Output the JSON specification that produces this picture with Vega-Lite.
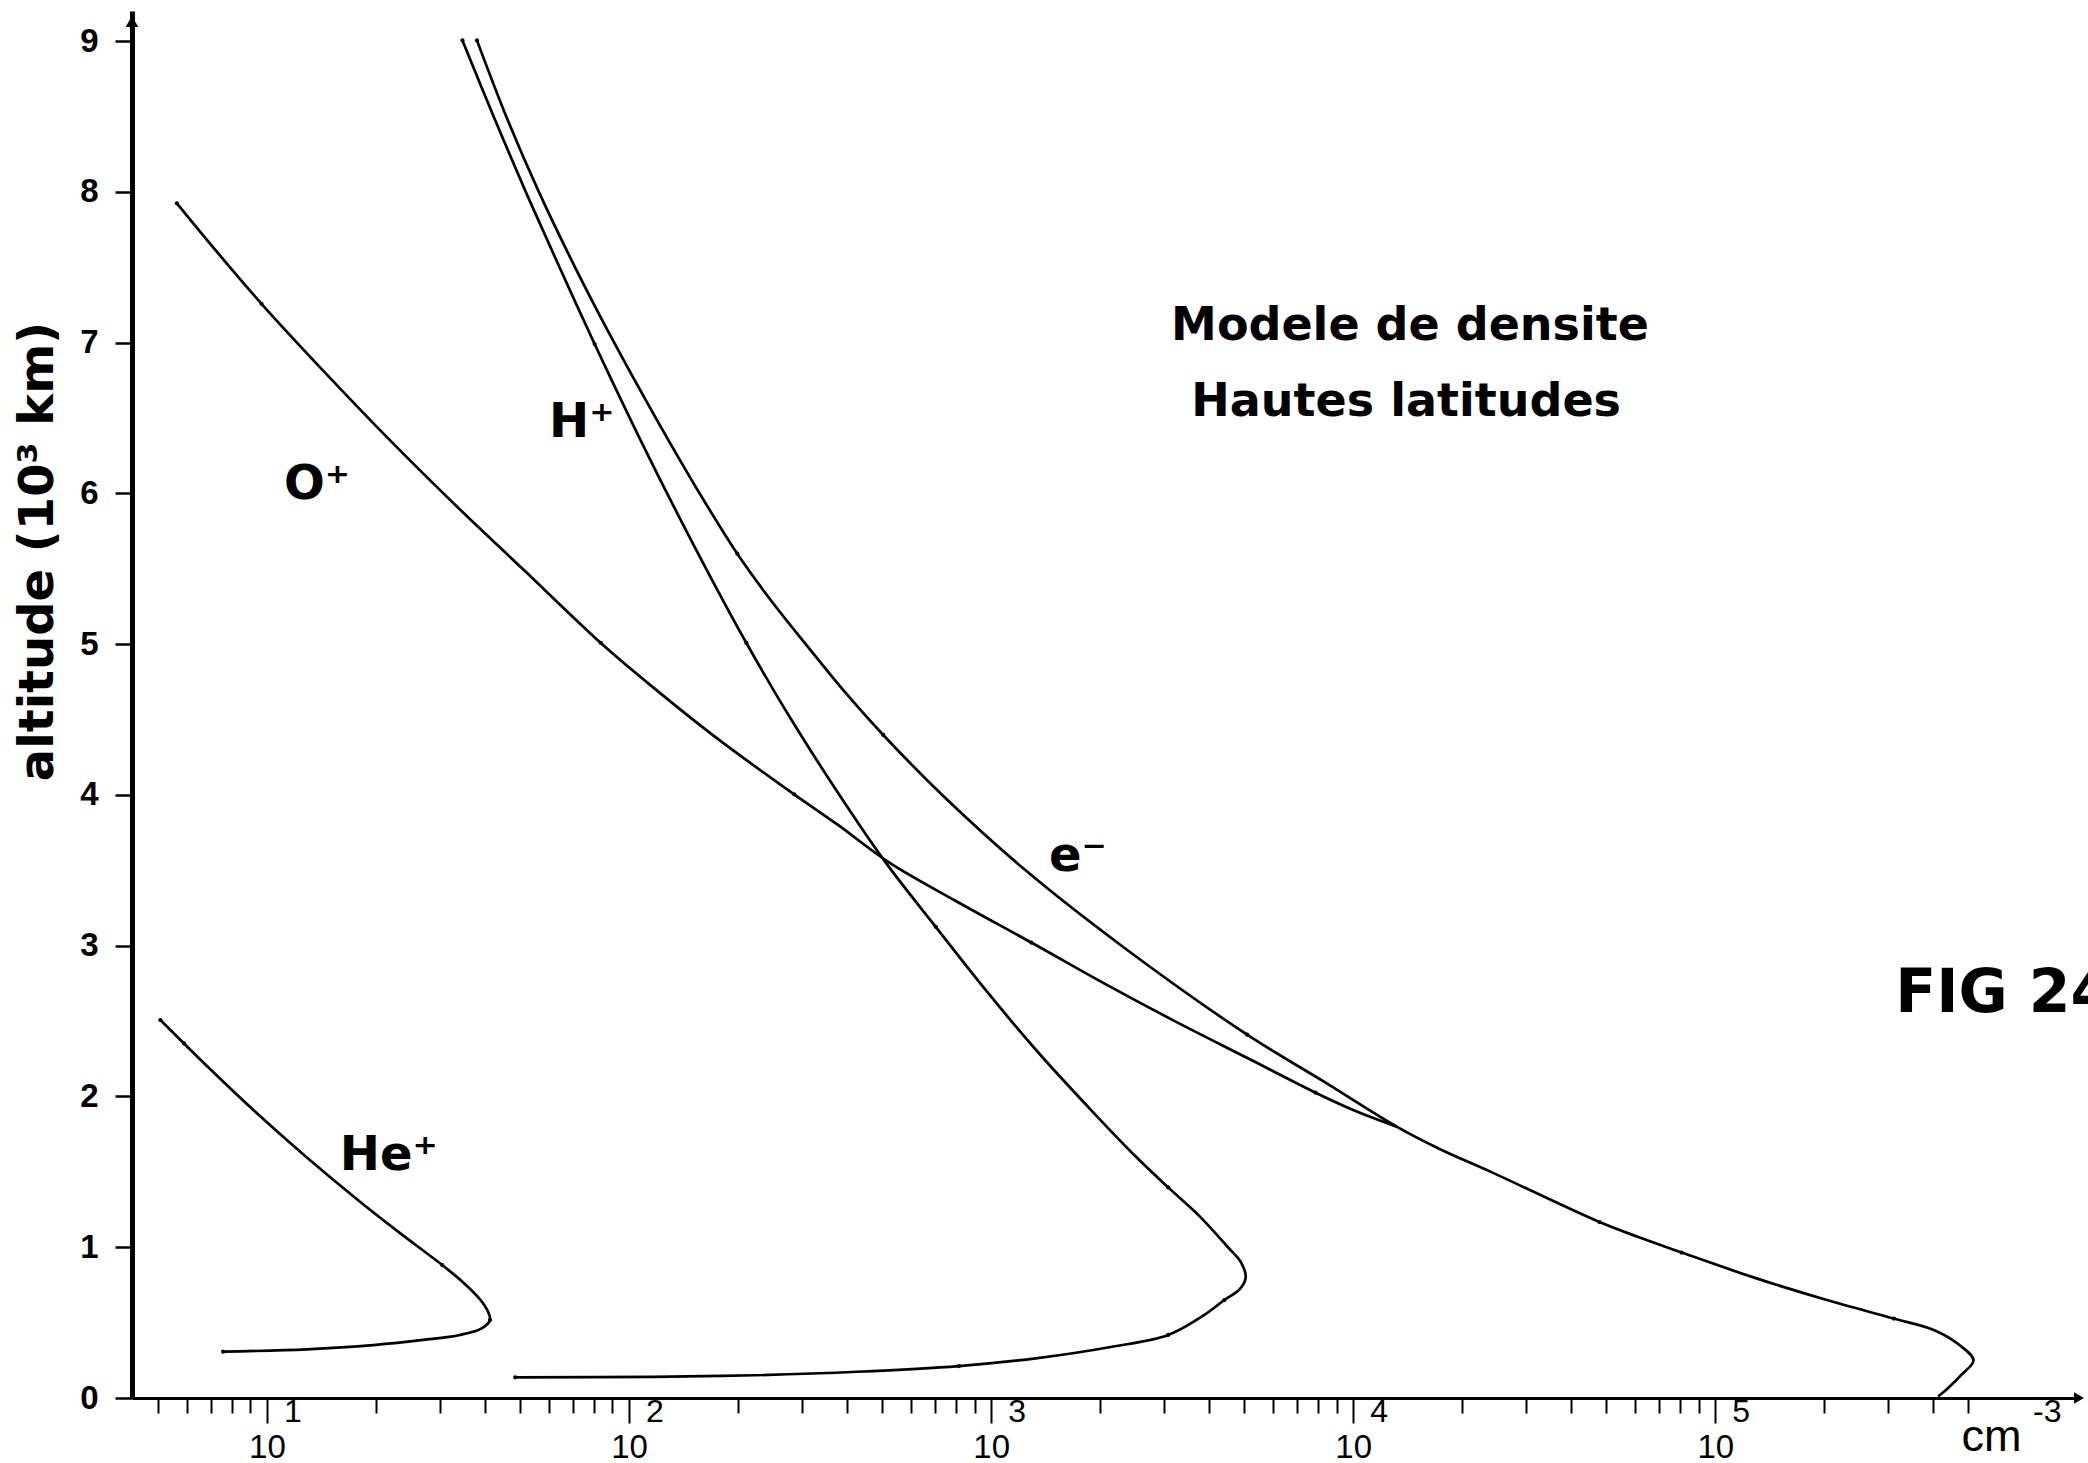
{
  "$schema": "https://vega.github.io/schema/vega-lite/v6.json",
  "width": 1947,
  "height": 1387,
  "autosize": {"type": "none"},
  "padding": {"left": 132, "top": 11, "right": 9, "bottom": 65},
  "background": "white",
  "config": {"view": {"stroke": null}},
  "datasets": {
    "curves": [
      {"s": "He", "i": 0, "n": 5.08, "alt": 2.507},
      {"s": "He", "i": 1, "n": 6.84, "alt": 2.2},
      {"s": "He", "i": 2, "n": 9.27, "alt": 1.9},
      {"s": "He", "i": 3, "n": 12.82, "alt": 1.6},
      {"s": "He", "i": 4, "n": 18.11, "alt": 1.3},
      {"s": "He", "i": 5, "n": 23.12, "alt": 1.1},
      {"s": "He", "i": 6, "n": 30.48, "alt": 0.882},
      {"s": "He", "i": 7, "n": 35.08, "alt": 0.76},
      {"s": "He", "i": 8, "n": 38.9, "alt": 0.65},
      {"s": "He", "i": 9, "n": 40.83, "alt": 0.57},
      {"s": "He", "i": 10, "n": 41.3, "alt": 0.517},
      {"s": "He", "i": 11, "n": 39.17, "alt": 0.462},
      {"s": "He", "i": 12, "n": 34.12, "alt": 0.418},
      {"s": "He", "i": 13, "n": 27.04, "alt": 0.385},
      {"s": "He", "i": 14, "n": 19.68, "alt": 0.351},
      {"s": "He", "i": 15, "n": 12.88, "alt": 0.323},
      {"s": "He", "i": 16, "n": 7.57, "alt": 0.307},
      {"s": "H", "i": 0, "n": 34.67, "alt": 9.005},
      {"s": "H", "i": 1, "n": 42.27, "alt": 8.5},
      {"s": "H", "i": 2, "n": 51.88, "alt": 8.0},
      {"s": "H", "i": 3, "n": 64.27, "alt": 7.5},
      {"s": "H", "i": 4, "n": 80.35, "alt": 6.991},
      {"s": "H", "i": 5, "n": 100.5, "alt": 6.5},
      {"s": "H", "i": 6, "n": 127.4, "alt": 6.0},
      {"s": "H", "i": 7, "n": 163.3, "alt": 5.5},
      {"s": "H", "i": 8, "n": 210.9, "alt": 5.008},
      {"s": "H", "i": 9, "n": 280.5, "alt": 4.5},
      {"s": "H", "i": 10, "n": 381.1, "alt": 4.0},
      {"s": "H", "i": 11, "n": 511.7, "alt": 3.551},
      {"s": "H", "i": 12, "n": 703.1, "alt": 3.125},
      {"s": "H", "i": 13, "n": 970.5, "alt": 2.7},
      {"s": "H", "i": 14, "n": 1340, "alt": 2.3},
      {"s": "H", "i": 15, "n": 1905, "alt": 1.9},
      {"s": "H", "i": 16, "n": 2512, "alt": 1.6},
      {"s": "H", "i": 17, "n": 3083, "alt": 1.397},
      {"s": "H", "i": 18, "n": 3784, "alt": 1.2},
      {"s": "H", "i": 19, "n": 4508, "alt": 1.0},
      {"s": "H", "i": 20, "n": 4898, "alt": 0.9},
      {"s": "H", "i": 21, "n": 5047, "alt": 0.8},
      {"s": "H", "i": 22, "n": 4853, "alt": 0.72},
      {"s": "H", "i": 23, "n": 4406, "alt": 0.65},
      {"s": "H", "i": 24, "n": 3873, "alt": 0.55},
      {"s": "H", "i": 25, "n": 3083, "alt": 0.418},
      {"s": "H", "i": 26, "n": 2158, "alt": 0.34},
      {"s": "H", "i": 27, "n": 1327, "alt": 0.263},
      {"s": "H", "i": 28, "n": 815, "alt": 0.212},
      {"s": "H", "i": 29, "n": 426.6, "alt": 0.174},
      {"s": "H", "i": 30, "n": 222.8, "alt": 0.151},
      {"s": "H", "i": 31, "n": 116.4, "alt": 0.14},
      {"s": "H", "i": 32, "n": 48.5, "alt": 0.137},
      {"s": "e", "i": 0, "n": 38.02, "alt": 9.005},
      {"s": "e", "i": 1, "n": 45.81, "alt": 8.5},
      {"s": "e", "i": 2, "n": 56.36, "alt": 8.0},
      {"s": "e", "i": 3, "n": 70.96, "alt": 7.5},
      {"s": "e", "i": 4, "n": 90.99, "alt": 7.0},
      {"s": "e", "i": 5, "n": 118.6, "alt": 6.5},
      {"s": "e", "i": 6, "n": 156.7, "alt": 6.0},
      {"s": "e", "i": 7, "n": 199.1, "alt": 5.6},
      {"s": "e", "i": 8, "n": 244.9, "alt": 5.3},
      {"s": "e", "i": 9, "n": 307.6, "alt": 5.0},
      {"s": "e", "i": 10, "n": 389.0, "alt": 4.7},
      {"s": "e", "i": 11, "n": 503.5, "alt": 4.398},
      {"s": "e", "i": 12, "n": 732.8, "alt": 4.0},
      {"s": "e", "i": 13, "n": 1245, "alt": 3.5},
      {"s": "e", "i": 14, "n": 2291, "alt": 3.0},
      {"s": "e", "i": 15, "n": 5093, "alt": 2.41},
      {"s": "e", "i": 16, "n": 8279, "alt": 2.1},
      {"s": "e", "i": 17, "n": 13180, "alt": 1.8},
      {"s": "e", "i": 18, "n": 17380, "alt": 1.65},
      {"s": "e", "i": 19, "n": 23990, "alt": 1.5},
      {"s": "e", "i": 20, "n": 47860, "alt": 1.167},
      {"s": "e", "i": 21, "n": 60950, "alt": 1.07},
      {"s": "e", "i": 22, "n": 80720, "alt": 0.965},
      {"s": "e", "i": 23, "n": 127400, "alt": 0.8},
      {"s": "e", "i": 24, "n": 203200, "alt": 0.65},
      {"s": "e", "i": 25, "n": 311200, "alt": 0.527},
      {"s": "e", "i": 26, "n": 402700, "alt": 0.45},
      {"s": "e", "i": 27, "n": 473200, "alt": 0.35},
      {"s": "e", "i": 28, "n": 516400, "alt": 0.25},
      {"s": "e", "i": 29, "n": 476400, "alt": 0.15},
      {"s": "e", "i": 30, "n": 436500, "alt": 0.06},
      {"s": "e", "i": 31, "n": 412100, "alt": 0.01},
      {"s": "O", "i": 0, "n": 5.64, "alt": 7.924},
      {"s": "O", "i": 1, "n": 7.29, "alt": 7.6},
      {"s": "O", "i": 2, "n": 9.66, "alt": 7.258},
      {"s": "O", "i": 3, "n": 14.49, "alt": 6.8},
      {"s": "O", "i": 4, "n": 22.13, "alt": 6.34},
      {"s": "O", "i": 5, "n": 33.57, "alt": 5.91},
      {"s": "O", "i": 6, "n": 50.82, "alt": 5.5},
      {"s": "O", "i": 7, "n": 83.56, "alt": 5.008},
      {"s": "O", "i": 8, "n": 111.7, "alt": 4.75},
      {"s": "O", "i": 9, "n": 176.2, "alt": 4.37},
      {"s": "O", "i": 10, "n": 285.8, "alt": 4.004},
      {"s": "O", "i": 11, "n": 378.4, "alt": 3.8},
      {"s": "O", "i": 12, "n": 523.6, "alt": 3.551},
      {"s": "O", "i": 13, "n": 794.3, "alt": 3.3},
      {"s": "O", "i": 14, "n": 1291, "alt": 3.021},
      {"s": "O", "i": 15, "n": 2051, "alt": 2.75},
      {"s": "O", "i": 16, "n": 3214, "alt": 2.5},
      {"s": "O", "i": 17, "n": 5152, "alt": 2.25},
      {"s": "O", "i": 18, "n": 7870, "alt": 2.025},
      {"s": "O", "i": 19, "n": 10230, "alt": 1.9},
      {"s": "O", "i": 20, "n": 13180, "alt": 1.8}
    ],
    "dots": [
      {"s": "He", "n": 5.08, "alt": 2.507},
      {"s": "He", "n": 5.9, "alt": 2.352},
      {"s": "He", "n": 30.48, "alt": 0.882},
      {"s": "He", "n": 41.3, "alt": 0.517},
      {"s": "He", "n": 7.57, "alt": 0.307},
      {"s": "H", "n": 34.67, "alt": 9.005},
      {"s": "H", "n": 80.35, "alt": 6.991},
      {"s": "H", "n": 210.9, "alt": 5.008},
      {"s": "H", "n": 703.1, "alt": 3.125},
      {"s": "H", "n": 3083, "alt": 1.397},
      {"s": "H", "n": 4406, "alt": 0.65},
      {"s": "H", "n": 3083, "alt": 0.418},
      {"s": "H", "n": 815, "alt": 0.212},
      {"s": "H", "n": 48.5, "alt": 0.137},
      {"s": "e", "n": 38.02, "alt": 9.005},
      {"s": "e", "n": 199.1, "alt": 5.6},
      {"s": "e", "n": 503.5, "alt": 4.398},
      {"s": "e", "n": 5093, "alt": 2.41},
      {"s": "e", "n": 47860, "alt": 1.167},
      {"s": "e", "n": 80720, "alt": 0.965},
      {"s": "e", "n": 311200, "alt": 0.527},
      {"s": "O", "n": 5.64, "alt": 7.924},
      {"s": "O", "n": 9.66, "alt": 7.258},
      {"s": "O", "n": 83.56, "alt": 5.008},
      {"s": "O", "n": 285.8, "alt": 4.004},
      {"s": "O", "n": 1291, "alt": 3.021},
      {"s": "O", "n": 7870, "alt": 2.025}
    ]
  },
  "layer": [
    {
      "data": {"name": "curves"},
      "mark": {"type": "line", "color": "black", "strokeWidth": 2.7, "interpolate": "catmull-rom"},
      "encoding": {
        "x": {
          "field": "n", "type": "quantitative",
          "scale": {"type": "log", "domain": [4.24, 1010000], "nice": false},
          "axis": {
            "values": [5, 6, 7, 8, 9, 10, 20, 30, 40, 50, 60, 70, 80, 90, 100, 200, 300, 400, 500, 600, 700, 800, 900, 1000, 2000, 3000, 4000, 5000, 6000, 7000, 8000, 9000, 10000, 20000, 30000, 40000, 50000, 60000, 70000, 80000, 90000, 100000, 200000, 300000, 400000, 500000],
            "labelExpr": "indexof([10,100,1000,10000,100000], datum.value) >= 0 ? '10' : ''",
            "tickSize": {"condition": {"test": "indexof([10,100,1000,10000,100000], datum.value) >= 0", "value": 25}, "value": 15},
            "tickWidth": 2,
            "tickColor": "black",
            "domainColor": "black",
            "domainWidth": 3,
            "labelFont": "Liberation Sans",
            "labelFontSize": 33,
            "labelColor": "black",
            "labelPadding": 8,
            "labelFlush": false,
            "labelOverlap": false,
            "labelBound": false,
            "grid": false,
            "title": null
          }
        },
        "y": {
          "field": "alt", "type": "quantitative",
          "scale": {"domain": [0, 9.2], "nice": false, "zero": false},
          "axis": {
            "values": [0, 1, 2, 3, 4, 5, 6, 7, 8, 9],
            "format": "d",
            "tickSize": 17,
            "tickWidth": 2.5,
            "tickColor": "black",
            "domainColor": "black",
            "domainWidth": 5,
            "labelFont": "Liberation Sans",
            "labelFontWeight": "bold",
            "labelFontSize": 33,
            "labelColor": "black",
            "labelPadding": 17,
            "labelFlush": false,
            "labelOverlap": false,
            "grid": false,
            "title": "altitude (10³ km)",
            "titleFont": "DejaVu Sans",
            "titleFontWeight": "bold",
            "titleFontSize": 48,
            "titleColor": "black",
            "titleX": -80,
            "titleY": 540,
            "titleAlign": "center",
            "titleBaseline": "alphabetic",
            "titleAngle": -90
          }
        },
        "detail": {"field": "s"},
        "order": {"field": "i"}
      }
    },
    {
      "data": {"name": "dots"},
      "mark": {"type": "point", "filled": true, "color": "black", "size": 18, "opacity": 1},
      "encoding": {
        "x": {"field": "n", "type": "quantitative"},
        "y": {"field": "alt", "type": "quantitative"}
      }
    },
    {
      "data": {"values": [{"n": 4.24, "alt": 9.13}]},
      "mark": {"type": "point", "shape": "triangle-up", "filled": true, "color": "black", "size": 160, "opacity": 1},
      "encoding": {
        "x": {"field": "n", "type": "quantitative"},
        "y": {"field": "alt", "type": "quantitative"}
      }
    },
    {
      "data": {"values": [{"n": 1010000, "alt": 0}]},
      "mark": {"type": "point", "shape": "triangle-right", "filled": true, "color": "black", "size": 130, "opacity": 1},
      "encoding": {
        "x": {"field": "n", "type": "quantitative"},
        "y": {"field": "alt", "type": "quantitative"}
      }
    },
    {
      "data": {"values": [
        {"t": "Modele de densite", "n": 14350, "alt": 7.02},
        {"t": "Hautes  latitudes", "n": 14000, "alt": 6.515}
      ]},
      "mark": {"type": "text", "font": "DejaVu Sans", "fontWeight": "bold", "fontSize": 46, "align": "center", "baseline": "alphabetic", "color": "black"},
      "encoding": {
        "x": {"field": "n", "type": "quantitative"},
        "y": {"field": "alt", "type": "quantitative"},
        "text": {"field": "t"}
      }
    },
    {
      "data": {"values": [
        {"t": "O⁺", "n": 11.14, "alt": 5.96},
        {"t": "H⁺", "n": 60.1, "alt": 6.373},
        {"t": "He⁺", "n": 15.9, "alt": 1.512},
        {"t": "e⁻", "n": 1445, "alt": 3.495}
      ]},
      "mark": {"type": "text", "font": "DejaVu Sans", "fontWeight": "bold", "fontSize": 48, "align": "left", "baseline": "alphabetic", "color": "black"},
      "encoding": {
        "x": {"field": "n", "type": "quantitative"},
        "y": {"field": "alt", "type": "quantitative"},
        "text": {"field": "t"}
      }
    },
    {
      "data": {"values": [{"t": "FIG 24", "n": 314000, "alt": 2.56}]},
      "mark": {"type": "text", "font": "DejaVu Sans", "fontWeight": "bold", "fontSize": 60, "align": "left", "baseline": "alphabetic", "color": "black"},
      "encoding": {
        "x": {"field": "n", "type": "quantitative"},
        "y": {"field": "alt", "type": "quantitative"},
        "text": {"field": "t"}
      }
    },
    {
      "data": {"values": [
        {"t": "1", "n": 10, "alt": 0},
        {"t": "2", "n": 100, "alt": 0},
        {"t": "3", "n": 1000, "alt": 0},
        {"t": "4", "n": 10000, "alt": 0},
        {"t": "5", "n": 100000, "alt": 0},
        {"t": "-3", "n": 677000, "alt": 0}
      ]},
      "mark": {"type": "text", "font": "Liberation Sans", "fontSize": 32, "align": "left", "baseline": "alphabetic", "color": "black", "dx": 17, "dy": 24},
      "encoding": {
        "x": {"field": "n", "type": "quantitative"},
        "y": {"field": "alt", "type": "quantitative"},
        "text": {"field": "t"}
      }
    },
    {
      "data": {"values": [{"t": "cm", "n": 478600, "alt": 0}]},
      "mark": {"type": "text", "font": "Liberation Sans", "fontSize": 45, "align": "left", "baseline": "alphabetic", "color": "black", "dy": 53},
      "encoding": {
        "x": {"field": "n", "type": "quantitative"},
        "y": {"field": "alt", "type": "quantitative"},
        "text": {"field": "t"}
      }
    }
  ]
}
